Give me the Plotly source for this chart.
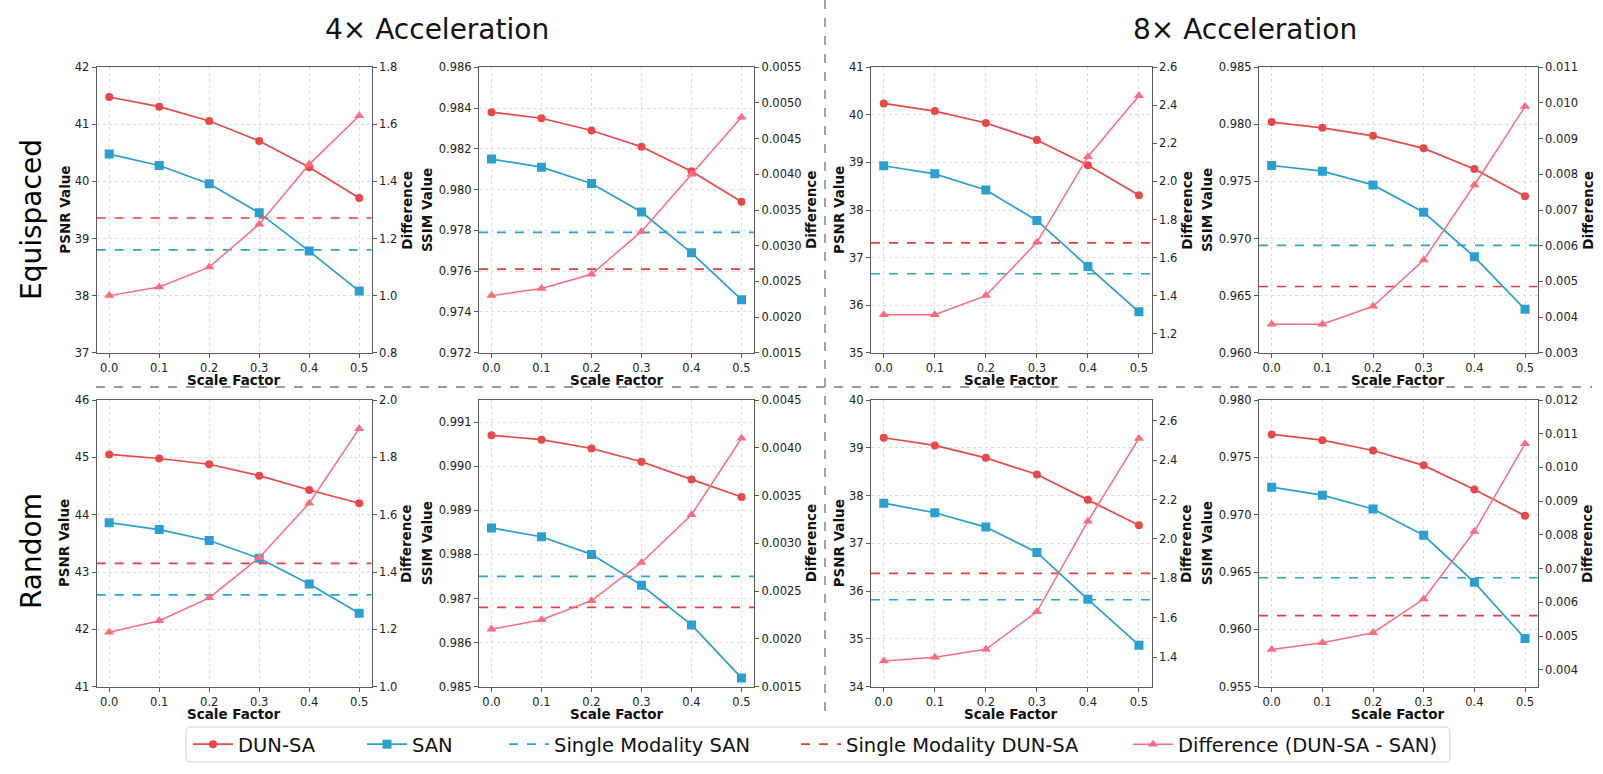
import plotly.graph_objects as go

W, H = 1603, 774

scale_factor = [0.0, 0.1, 0.2, 0.3, 0.4, 0.5]

# 4x acceleration, equispaced mask
psnr_4x_eq_dunsa = [41.48, 41.31, 41.06, 40.71, 40.25, 39.71]
psnr_4x_eq_san = [40.48, 40.28, 39.96, 39.45, 38.78, 38.08]
psnr_4x_eq_diff = [1.00, 1.03, 1.10, 1.25, 1.46, 1.63]
psnr_4x_eq_single_san = 38.80
psnr_4x_eq_single_dunsa = 39.36

ssim_4x_eq_dunsa = [0.9838, 0.9835, 0.9829, 0.9821, 0.9809, 0.9794]
ssim_4x_eq_san = [0.9815, 0.9811, 0.9803, 0.9789, 0.9769, 0.9746]
ssim_4x_eq_diff = [0.0023, 0.0024, 0.0026, 0.0032, 0.0040, 0.0048]
ssim_4x_eq_single_san = 0.9779
ssim_4x_eq_single_dunsa = 0.9761

# 8x acceleration, equispaced mask
psnr_8x_eq_dunsa = [40.24, 40.08, 39.83, 39.47, 38.94, 38.31]
psnr_8x_eq_san = [38.93, 38.76, 38.42, 37.78, 36.81, 35.86]
psnr_8x_eq_diff = [1.30, 1.30, 1.40, 1.68, 2.13, 2.45]
psnr_8x_eq_single_san = 36.66
psnr_8x_eq_single_dunsa = 37.31

ssim_8x_eq_dunsa = [0.9802, 0.9797, 0.9790, 0.9779, 0.9761, 0.9737]
ssim_8x_eq_san = [0.9764, 0.9759, 0.9747, 0.9723, 0.9684, 0.9638]
ssim_8x_eq_diff = [0.0038, 0.0038, 0.0043, 0.0056, 0.0077, 0.0099]
ssim_8x_eq_single_san = 0.9694
ssim_8x_eq_single_dunsa = 0.9658

# 4x acceleration, random mask
psnr_4x_rd_dunsa = [45.05, 44.98, 44.88, 44.68, 44.43, 44.20]
psnr_4x_rd_san = [43.86, 43.74, 43.55, 43.24, 42.79, 42.28]
psnr_4x_rd_diff = [1.19, 1.23, 1.31, 1.45, 1.64, 1.90]
psnr_4x_rd_single_san = 42.60
psnr_4x_rd_single_dunsa = 43.15

ssim_4x_rd_dunsa = [0.9907, 0.9906, 0.9904, 0.9901, 0.9897, 0.9893]
ssim_4x_rd_san = [0.9886, 0.9884, 0.9880, 0.9873, 0.9864, 0.9852]
ssim_4x_rd_diff = [0.0021, 0.0022, 0.0024, 0.0028, 0.0033, 0.0041]
ssim_4x_rd_single_san = 0.9875
ssim_4x_rd_single_dunsa = 0.9868

# 8x acceleration, random mask
psnr_8x_rd_dunsa = [39.21, 39.05, 38.79, 38.44, 37.91, 37.38]
psnr_8x_rd_san = [37.84, 37.64, 37.34, 36.81, 35.83, 34.87]
psnr_8x_rd_diff = [1.38, 1.40, 1.44, 1.63, 2.09, 2.51]
psnr_8x_rd_single_san = 35.82
psnr_8x_rd_single_dunsa = 36.37

ssim_8x_rd_dunsa = [0.9770, 0.9765, 0.9756, 0.9743, 0.9722, 0.9699]
ssim_8x_rd_san = [0.9724, 0.9717, 0.9705, 0.9682, 0.9641, 0.9592]
ssim_8x_rd_diff = [0.0046, 0.0048, 0.0051, 0.0061, 0.0081, 0.0107]
ssim_8x_rd_single_san = 0.9645
ssim_8x_rd_single_dunsa = 0.9612

RED = "#e84848"
BLUE = "#2a9fd0"
PINK = "#ff6b80"
RED_DASH = "#f03a3a"
BLUE_DASH = "#28a4d6"
FONT = "DejaVu Sans"
X_RANGE = [-0.025, 0.525]

# (data..., metric, left range, left dtick, left fmt, right range, right dtick, right fmt)
panels = [
    (psnr_4x_eq_dunsa, psnr_4x_eq_san, psnr_4x_eq_diff, psnr_4x_eq_single_san, psnr_4x_eq_single_dunsa,
     "PSNR Value", [37, 42], 1, ".0f", [0.8, 1.8], 0.2, ".1f"),
    (ssim_4x_eq_dunsa, ssim_4x_eq_san, ssim_4x_eq_diff, ssim_4x_eq_single_san, ssim_4x_eq_single_dunsa,
     "SSIM Value", [0.972, 0.986], 0.002, ".3f", [0.0015, 0.0055], 0.0005, ".4f"),
    (psnr_8x_eq_dunsa, psnr_8x_eq_san, psnr_8x_eq_diff, psnr_8x_eq_single_san, psnr_8x_eq_single_dunsa,
     "PSNR Value", [35, 41], 1, ".0f", [1.1, 2.6], 0.2, ".1f"),
    (ssim_8x_eq_dunsa, ssim_8x_eq_san, ssim_8x_eq_diff, ssim_8x_eq_single_san, ssim_8x_eq_single_dunsa,
     "SSIM Value", [0.960, 0.985], 0.005, ".3f", [0.003, 0.011], 0.001, ".3f"),
    (psnr_4x_rd_dunsa, psnr_4x_rd_san, psnr_4x_rd_diff, psnr_4x_rd_single_san, psnr_4x_rd_single_dunsa,
     "PSNR Value", [41, 46], 1, ".0f", [1.0, 2.0], 0.2, ".1f"),
    (ssim_4x_rd_dunsa, ssim_4x_rd_san, ssim_4x_rd_diff, ssim_4x_rd_single_san, ssim_4x_rd_single_dunsa,
     "SSIM Value", [0.985, 0.9915], 0.001, ".3f", [0.0015, 0.0045], 0.0005, ".4f"),
    (psnr_8x_rd_dunsa, psnr_8x_rd_san, psnr_8x_rd_diff, psnr_8x_rd_single_san, psnr_8x_rd_single_dunsa,
     "PSNR Value", [34, 40], 1, ".0f", [1.25, 2.705], 0.2, ".1f"),
    (ssim_8x_rd_dunsa, ssim_8x_rd_san, ssim_8x_rd_diff, ssim_8x_rd_single_san, ssim_8x_rd_single_dunsa,
     "SSIM Value", [0.955, 0.980], 0.005, ".3f", [0.0035, 0.012], 0.001, ".3f"),
]

# pixel boxes of the axes
col_px = [(96.7, 371.7), (479, 754), (871, 1151.7), (1259, 1537.7)]
row_px = [(67.3, 352.7), (400, 686.7)]


def fx(px):
    return px / W


def fy(py):
    return 1 - py / H


def text(s, x, y, size, angle=0, bold=False, color="#111"):
    fig.add_annotation(text=s, x=fx(x), y=fy(y), xref="paper", yref="paper",
                       xanchor="center", yanchor="middle", showarrow=False, textangle=angle,
                       font=dict(family=FONT, size=size, color=color,
                                 weight="bold" if bold else "normal"))


fig = go.Figure()
layout = {}
tickfont = dict(family=FONT, size=11.5, color="#222")

for i, p in enumerate(panels):
    dunsa, san, diff, single_san, single_dunsa, metric, lrng, ldt, lfmt, rrng, rdt, rfmt = p
    n = i + 1
    r, c = divmod(i, 4)
    xa, ya, yb = f"x{n}", f"y{n}", f"y{n + 8}"
    first = i == 0

    fig.add_trace(go.Scatter(
        x=scale_factor, y=dunsa, xaxis=xa, yaxis=ya, name="DUN-SA", mode="lines+markers",
        line=dict(color=RED, width=1.7), marker=dict(symbol="circle", size=8, color=RED),
        showlegend=first, legend="legend"))
    fig.add_trace(go.Scatter(
        x=scale_factor, y=san, xaxis=xa, yaxis=ya, name="SAN", mode="lines+markers",
        line=dict(color=BLUE, width=1.7), marker=dict(symbol="square", size=9, color=BLUE),
        showlegend=first, legend="legend2"))
    fig.add_trace(go.Scatter(
        x=X_RANGE, y=[single_san, single_san], xaxis=xa, yaxis=ya, name="Single Modality SAN",
        mode="lines", line=dict(color=BLUE_DASH, width=1.7, dash="dash"),
        showlegend=first, legend="legend3"))
    fig.add_trace(go.Scatter(
        x=X_RANGE, y=[single_dunsa, single_dunsa], xaxis=xa, yaxis=ya, name="Single Modality DUN-SA",
        mode="lines", line=dict(color=RED_DASH, width=1.7, dash="dash"),
        showlegend=first, legend="legend4"))
    fig.add_trace(go.Scatter(
        x=scale_factor, y=diff, xaxis=xa, yaxis=yb, name="Difference (DUN-SA - SAN)",
        mode="lines+markers", line=dict(color=PINK, width=1.5),
        marker=dict(symbol="triangle-up", size=9, color=PINK),
        showlegend=first, legend="legend5"))

    x0, x1 = col_px[c]
    y0, y1 = row_px[r]
    common = dict(showline=True, linecolor="#5a5a5a", linewidth=1.2, ticks="outside",
                  ticklen=4, tickcolor="#5a5a5a", tickfont=tickfont, zeroline=False,
                  automargin=False)

    layout[f"xaxis{n}"] = dict(
        domain=[fx(x0), fx(x1)], anchor=ya, range=X_RANGE, tick0=0, dtick=0.1, tickformat=".1f",
        mirror=True, showgrid=True, gridcolor="#dcdcdc", griddash="dot", gridwidth=1, **common)
    layout[f"yaxis{n}"] = dict(
        domain=[fy(y1), fy(y0)], anchor=xa, range=lrng, tick0=0, dtick=ldt, tickformat=lfmt,
        showgrid=True, gridcolor="#dcdcdc", griddash="dot", gridwidth=1, **common)
    layout[f"yaxis{n + 8}"] = dict(
        overlaying=ya, anchor=xa, side="right", range=rrng, tick0=0, dtick=rdt,
        tickformat=rfmt, showgrid=False, **common)

    # axis titles
    left_off = 32 if metric == "PSNR Value" else 52
    right_off = {".1f": 35, ".4f": 57, ".3f": 50}[rfmt]
    ymid = (y0 + y1) / 2
    text(metric, x0 - left_off, ymid, 13.5, angle=-90, bold=True)
    text("Difference", x1 + right_off, ymid, 13.5, angle=-90, bold=True)
    text("Scale Factor", (x0 + x1) / 2, y1 + 27, 13.5, bold=True)

fig.update_layout(**layout)

# column titles and row labels
text("4× Acceleration", 437, 30, 28)
text("8× Acceleration", 1245, 30, 28)
text("Equispaced", 31, 220, 28, angle=-90, color="#000")
text("Random", 31, 551, 28, angle=-90, color="#000")

# separators
fig.add_shape(type="line", xref="paper", yref="paper", x0=fx(825), x1=fx(825), y0=fy(0), y1=fy(714),
              line=dict(color="#9a9a9a", width=1.8, dash="dash"))
fig.add_shape(type="line", xref="paper", yref="paper", x0=fx(96), x1=fx(1592), y0=fy(387), y1=fy(387),
              line=dict(color="#9a9a9a", width=1.8, dash="dash"))

# legend frame with rounded corners
bx0, bx1, by0, by1, rad = 186, 1450, 727, 762, 5
frame = (f"M {fx(bx0 + rad)} {fy(by0)} L {fx(bx1 - rad)} {fy(by0)} "
         f"Q {fx(bx1)} {fy(by0)} {fx(bx1)} {fy(by0 + rad)} L {fx(bx1)} {fy(by1 - rad)} "
         f"Q {fx(bx1)} {fy(by1)} {fx(bx1 - rad)} {fy(by1)} L {fx(bx0 + rad)} {fy(by1)} "
         f"Q {fx(bx0)} {fy(by1)} {fx(bx0)} {fy(by1 - rad)} L {fx(bx0)} {fy(by0 + rad)} "
         f"Q {fx(bx0)} {fy(by0)} {fx(bx0 + rad)} {fy(by0)} Z")
fig.add_shape(type="path", xref="paper", yref="paper", path=frame,
              line=dict(color="#d0d0d0", width=1), fillcolor="white", layer="below")

legend_x = [188, 362, 504, 796, 1128]
leg = dict(orientation="h", xanchor="left", y=fy(744.5), yanchor="middle",
           bgcolor="rgba(0,0,0,0)", borderwidth=0, itemwidth=40,
           font=dict(family=FONT, size=19.5, color="#111"))
legends = {}
for k, lx in enumerate(legend_x):
    key = "legend" if k == 0 else f"legend{k + 1}"
    legends[key] = dict(leg, x=fx(lx))

fig.update_layout(
    width=W, height=H,
    margin=dict(l=0, r=0, t=0, b=0),
    plot_bgcolor="white", paper_bgcolor="white",
    font=dict(family=FONT, color="#222"),
    **legends,
)

fig.write_html("out.html", config={"displayModeBar": False},
               post_script="document.body.style.margin='0';document.body.style.overflow='hidden';")
